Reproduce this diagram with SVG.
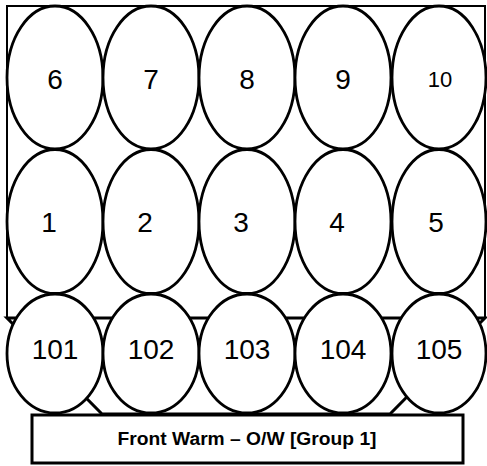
<svg xmlns="http://www.w3.org/2000/svg" width="487" height="466" viewBox="0 0 487 466">
<style>
.bg{fill:#fff}
.frame{fill:none;stroke:#000;stroke-width:2}
.tray{fill:none;stroke:#000;stroke-width:3;stroke-linejoin:miter}
.cell ellipse{fill:#fff;stroke:#000;stroke-width:2.8}
.num{font-family:"Liberation Sans",Arial,sans-serif;font-size:28px;fill:#000;text-anchor:middle}
.small{font-size:22px}
.label rect{fill:#fff;stroke:#000;stroke-width:3}
.label text{font-family:"Liberation Sans",Arial,sans-serif;font-size:18px;font-weight:bold;fill:#000;text-anchor:middle}
</style>
<rect class="bg" x="0" y="0" width="487" height="466"/>
<g id="frame">
<rect class="frame" x="7" y="6" width="478" height="312"/>
<path class="tray" d="M7,318 H485 L390,414 H102 Z"/>
</g>
<g id="label" class="label">
<rect x="32" y="415" width="431" height="48"/>
<text x="247" y="444.5" textLength="259" lengthAdjust="spacingAndGlyphs">Front Warm – O/W [Group 1]</text>
</g>
<g id="connectors"></g>
<g id="node-6" class="cell"><ellipse cx="55" cy="77.5" rx="48" ry="71.5"/><text class="num" x="55" y="89">6</text></g>
<g id="node-7" class="cell"><ellipse cx="151" cy="77.5" rx="48" ry="71.5"/><text class="num" x="151" y="89">7</text></g>
<g id="node-8" class="cell"><ellipse cx="247" cy="77.5" rx="48" ry="71.5"/><text class="num" x="247" y="89">8</text></g>
<g id="node-9" class="cell"><ellipse cx="343" cy="77.5" rx="48" ry="71.5"/><text class="num" x="343" y="89">9</text></g>
<g id="node-10" class="cell"><ellipse cx="439" cy="77.5" rx="47" ry="71.5"/><text class="num small" x="440" y="87">10</text></g>
<g id="node-1" class="cell"><ellipse cx="55" cy="221.5" rx="48" ry="72"/><text class="num" x="49" y="232">1</text></g>
<g id="node-2" class="cell"><ellipse cx="151" cy="221.5" rx="48" ry="72"/><text class="num" x="145" y="232">2</text></g>
<g id="node-3" class="cell"><ellipse cx="247" cy="221.5" rx="48" ry="72"/><text class="num" x="241" y="232">3</text></g>
<g id="node-4" class="cell"><ellipse cx="343" cy="221.5" rx="48" ry="72"/><text class="num" x="337" y="232">4</text></g>
<g id="node-5" class="cell"><ellipse cx="439" cy="221.5" rx="47" ry="72"/><text class="num" x="436" y="232">5</text></g>
<g id="node-101" class="cell"><ellipse cx="55" cy="353.5" rx="48" ry="59.5"/><text class="num" x="55" y="359">101</text></g>
<g id="node-102" class="cell"><ellipse cx="151" cy="353.5" rx="48" ry="59.5"/><text class="num" x="151" y="359">102</text></g>
<g id="node-103" class="cell"><ellipse cx="247" cy="353.5" rx="48" ry="59.5"/><text class="num" x="247" y="359">103</text></g>
<g id="node-104" class="cell"><ellipse cx="343" cy="353.5" rx="48" ry="59.5"/><text class="num" x="343" y="359">104</text></g>
<g id="node-105" class="cell"><ellipse cx="439" cy="353.5" rx="47" ry="59.5"/><text class="num" x="439" y="359">105</text></g>
</svg>
